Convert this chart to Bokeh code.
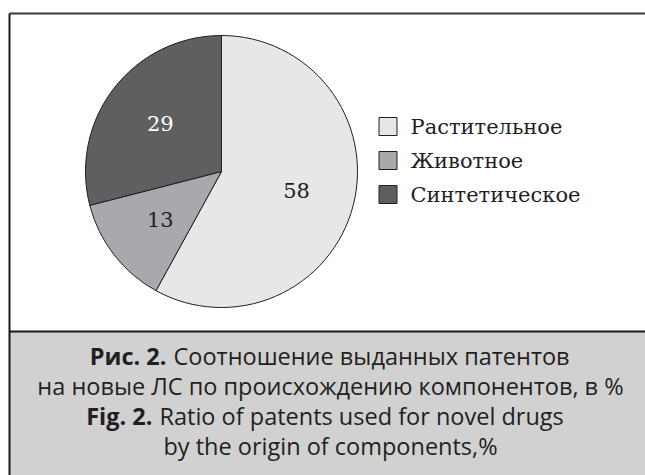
import math
from bokeh.plotting import figure
from bokeh.models import Range1d, ColumnDataSource
from bokeh.core.properties import value
from bokeh.embed import file_html
from bokeh.resources import INLINE

# ---- data ----
categories = ["Растительное", "Животное", "Синтетическое"]
shares = [58, 13, 29]
slice_colors = ["#e6e7e8", "#a7a9ac", "#5e5f61"]
label_colors = ["#231f20", "#231f20", "#ffffff"]
caption_bold = ["Рис. 2.", "", "Fig. 2.", ""]
caption_regular = [
    "Соотношение выданных патентов",
    "на новые ЛС по происхождению компонентов, в %",
    "Ratio of patents used for novel drugs",
    "by the origin of components,%",
]

# ---- layout constants (pixel units) ----
W, H = 645, 475
CX, CY, R = 221, 304, 136
SERIF = "DejaVu Serif"
SANS = "Open Sans"

p = figure(width=W, height=H, output_backend="svg", toolbar_location=None,
           x_range=Range1d(0, W), y_range=Range1d(0, H), min_border=0)
p.axis.visible = False
p.grid.visible = False
p.outline_line_color = None
p.background_fill_color = "white"
p.border_fill_color = "white"

# frame and caption box
p.quad(left=9, right=W + 5, bottom=-5, top=144, fill_color="#d1d1d1", line_color=None)
p.line(x=[9, W + 5], y=[462, 462], line_color="#3a3a3a", line_width=2)
p.line(x=[9, W + 5], y=[144, 144], line_color="#1a1a1a", line_width=2)
p.line(x=[9, 9], y=[-5, 462], line_color="#1a1a1a", line_width=2)

# pie
total = float(sum(shares))
starts, ends, cum = [], [], 0.0
for s in shares:
    starts.append(math.pi / 2 - 2 * math.pi * cum / total)
    cum += s
    ends.append(math.pi / 2 - 2 * math.pi * cum / total)
mids = [(a + b) / 2 for a, b in zip(starts, ends)]
src = ColumnDataSource(dict(start=starts, end=ends, color=slice_colors, cat=categories))
p.wedge(x=CX, y=CY, radius=R, start_angle="start", end_angle="end", direction="clock",
        fill_color="color", line_color="#231f20", line_width=1, source=src)

lr = 0.57 * R
lsrc = ColumnDataSource(dict(
    x=[CX + lr * math.cos(m) for m in mids],
    y=[CY + lr * math.sin(m) for m in mids],
    t=[str(s) for s in shares], c=label_colors))
p.text(x="x", y="y", text="t", text_color="c", source=lsrc, text_align="center",
       text_baseline="middle", text_font=value(SERIF), text_font_size="21px")

# legend
ly = [349 - 34 * i for i in range(len(categories))]
p.rect(x=[387.5] * len(categories), y=ly, width=18, height=18, fill_color=slice_colors,
       line_color="#231f20", line_width=1)
p.text(x=[410] * len(categories), y=ly, text=categories, text_color="#231f20",
       text_baseline="middle", text_align="left", text_font=value(SERIF),
       text_font_size="21px")

# caption
FS = "23.5px"
cap_y = [120 - 30 * i for i in range(4)]
split_x = [166, None, 152, None]
for i in range(4):
    if caption_bold[i]:
        p.text(x=[split_x[i]], y=[cap_y[i]], text=[caption_bold[i]], text_align="right",
               text_baseline="middle", text_font=value(SANS), text_font_style="bold",
               text_font_size=FS, text_color="#231f20")
        p.text(x=[split_x[i] + 7], y=[cap_y[i]], text=[caption_regular[i]], text_align="left",
               text_baseline="middle", text_font=value(SANS), text_font_size=FS,
               text_color="#231f20")
    else:
        p.text(x=[330], y=[cap_y[i]], text=[caption_regular[i]], text_align="center",
               text_baseline="middle", text_font=value(SANS), text_font_size=FS,
               text_color="#231f20")

open("out.html", "w").write(file_html(p, INLINE))
